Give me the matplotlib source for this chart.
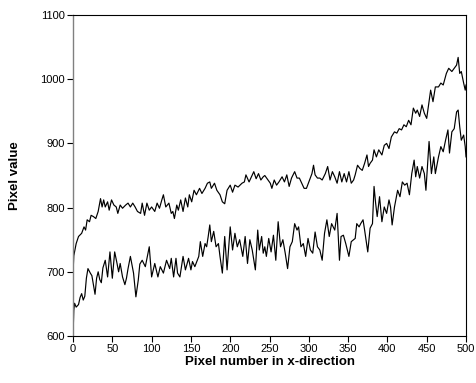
import matplotlib

matplotlib.use("Agg")
import matplotlib.pyplot as plt

# Upper profile sampled along x
upper_x = [0, 1, 4, 7, 11, 14, 16, 18, 21, 23, 26, 29, 32, 35, 37, 39, 41, 44, 46,
           49, 52, 55, 57, 60, 63, 67, 70, 73, 76, 79, 82, 86, 88, 91, 94, 97, 100,
           104, 107, 110, 113, 115, 118, 122, 125, 127, 129, 132, 134, 137, 140,
           143, 146, 148, 151, 154, 157, 161, 164, 168, 171, 174, 176, 180, 183,
           187, 190, 193, 196, 200, 203, 206, 210, 215, 218, 220, 224, 227, 230,
           233, 236, 239, 242, 244, 248, 251, 253, 256, 259, 262, 266, 269, 272,
           275, 278, 282, 285, 288, 291, 294, 297, 300, 304, 306, 308, 311, 314,
           317, 321, 324, 327, 330, 333, 336, 339, 342, 345, 348, 351, 354, 357,
           359, 362, 365, 368, 371, 374, 376, 378, 381, 383, 386, 389, 393, 396,
           399, 402, 405, 409, 412, 415, 418, 421, 424, 427, 430, 433, 436, 438,
           441, 444, 447, 450, 453, 455, 458, 461, 465, 468, 471, 475, 478, 482,
           485, 488, 490, 492, 494, 497, 499, 500]
upper_y = [698, 725, 744, 755, 760, 770, 765, 781, 778, 788, 786, 783, 794, 814, 801,
           812, 801, 809, 796, 812, 804, 801, 791, 804, 799, 804, 807, 801, 807, 801,
           794, 791, 807, 788, 807, 796, 801, 794, 807, 799, 812, 820, 801, 807, 791,
           794, 783, 804, 796, 812, 794, 815, 801, 820, 809, 827, 820, 830, 822, 830,
           838, 840, 830, 838, 827, 820, 809, 806, 827, 835, 824, 835, 832, 838, 840,
           851, 840, 848, 856, 845, 853, 843, 848, 850, 843, 838, 830, 843, 835, 840,
           848, 840, 851, 833, 846, 856, 846, 846, 838, 830, 830, 840, 853, 866, 851,
           846, 846, 843, 853, 864, 843, 856, 848, 838, 856, 840, 853, 840, 856, 838,
           843, 851, 866, 861, 858, 869, 882, 864, 869, 874, 890, 879, 890, 882, 897,
           900, 892, 910, 918, 916, 923, 921, 929, 926, 936, 929, 955, 947, 952, 942,
           960, 947, 939, 965, 983, 965, 988, 988, 994, 991, 1009, 1017, 1012, 1017,
           1022, 1034, 1009, 1012, 994, 983, 991]

# Lower profile sampled along x
lower_x = [0, 1, 2, 4, 7, 9, 11, 13, 15, 17, 19, 22, 24, 26, 28, 30, 32, 34, 36, 38,
           41, 44, 47, 50, 53, 56, 58, 60, 63, 66, 68, 70, 73, 77, 80, 83, 85, 88,
           92, 97, 100, 104, 108, 111, 115, 119, 123, 125, 128, 131, 133, 136, 140,
           143, 147, 150, 152, 155, 160, 162, 165, 168, 170, 172, 174, 176, 179, 182,
           185, 187, 190, 193, 196, 200, 203, 206, 209, 212, 216, 219, 222, 225,
           228, 232, 235, 237, 240, 242, 244, 246, 249, 252, 255, 258, 261, 264,
           267, 270, 273, 276, 279, 282, 285, 287, 290, 293, 296, 299, 302, 305,
           308, 311, 314, 317, 320, 323, 326, 329, 333, 336, 339, 341, 344, 347,
           351, 354, 357, 359, 361, 364, 366, 369, 371, 375, 378, 381, 383, 385,
           387, 390, 393, 396, 399, 402, 404, 406, 409, 413, 416, 419, 422, 425,
           428, 431, 434, 436, 438, 441, 444, 447, 449, 453, 456, 459, 461, 465,
           468, 471, 474, 477, 479, 482, 485, 488, 490, 492, 494, 497, 499, 500]
lower_y = [600, 640, 651, 645, 649, 660, 666, 656, 662, 690, 705, 698, 694, 680, 665,
           690, 700, 688, 683, 706, 718, 692, 731, 690, 731, 713, 700, 713, 692, 680,
           690, 705, 724, 698, 661, 687, 712, 718, 708, 739, 692, 713, 692, 708, 698,
           718, 705, 721, 692, 721, 698, 692, 724, 703, 721, 703, 716, 708, 724, 747,
           724, 744, 739, 755, 773, 747, 763, 739, 744, 724, 698, 755, 703, 770, 734,
           760, 739, 750, 724, 755, 713, 750, 734, 703, 765, 734, 755, 729, 739, 724,
           752, 731, 757, 718, 778, 739, 750, 729, 705, 739, 747, 775, 765, 770, 739,
           744, 724, 752, 734, 729, 762, 739, 734, 718, 760, 781, 755, 775, 765, 791,
           718, 755, 757, 744, 724, 747, 750, 752, 775, 770, 775, 781, 765, 731, 768,
           775, 833, 807, 786, 817, 778, 801, 791, 812, 801, 773, 801, 827, 817, 840,
           835, 838, 820, 853, 874, 848, 864, 846, 864, 853, 827, 903, 853, 879, 853,
           879, 895, 887, 905, 921, 885, 918, 923, 949, 952, 926, 905, 913, 895, 879]

fig = plt.figure(figsize=(4.76, 3.83), dpi=100)
ax = fig.add_axes([0.1534, 0.1227, 0.8256, 0.8381])

ax.plot(upper_x, upper_y, color="black", lw=0.85)
ax.plot(lower_x, lower_y, color="black", lw=0.85)

ax.set_xlim(0, 500)
ax.set_ylim(600, 1100)
ax.set_xticks(range(0, 501, 50))
ax.set_yticks(range(600, 1101, 100))
ax.tick_params(direction="out", length=4, width=0.8, labelsize=8, pad=2,
               top=False, right=False)
for lbl in ax.get_xticklabels() + ax.get_yticklabels():
    lbl.set_family("Liberation Sans")

for side in ["top", "right", "bottom"]:
    ax.spines[side].set_color("black")
    ax.spines[side].set_linewidth(0.8)
ax.spines["left"].set_color("#808080")
ax.spines["left"].set_linewidth(1.0)

ax.set_xlabel("Pixel number in x-direction", fontsize=9.5, fontweight="bold",
              family="Liberation Sans", labelpad=1)
ax.set_ylabel("Pixel value", fontsize=9.5, fontweight="bold",
              family="Liberation Sans", labelpad=14)

fig.savefig("out.png", dpi=100)
